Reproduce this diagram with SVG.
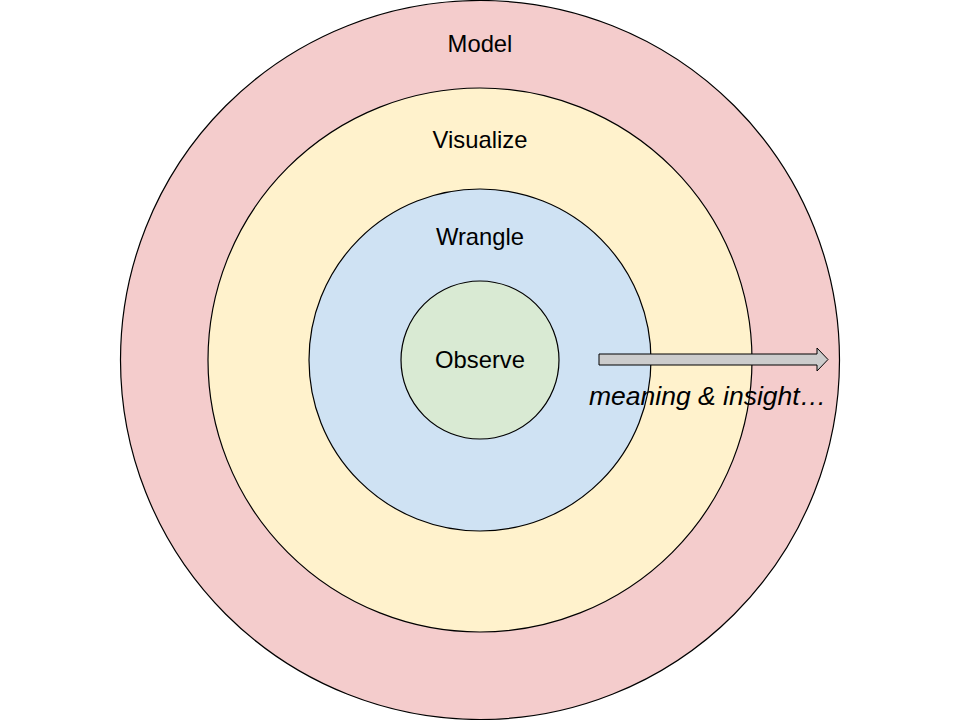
<svg xmlns="http://www.w3.org/2000/svg" width="960" height="720" viewBox="0 0 960 720">
<style>
.ring{stroke:#000;stroke-width:1.2}
.lbl{font-family:"Liberation Sans",Arial,sans-serif;font-size:23.8px;fill:#000;text-anchor:middle}
.it{font-family:"Liberation Sans",Arial,sans-serif;font-size:26.5px;font-style:italic;fill:#000}
</style>
<rect width="960" height="720" fill="#fff"/>
<g id="model"><circle class="ring" cx="480" cy="360" r="359.5" fill="#f4cccc"/><text class="lbl" x="480" y="52">Model</text></g>
<g id="visualize"><circle class="ring" cx="480" cy="360" r="272" fill="#fff2cc"/><text class="lbl" x="480" y="148">Visualize</text></g>
<g id="wrangle"><circle class="ring" cx="480" cy="360" r="171" fill="#cfe2f3"/><text class="lbl" x="480" y="245">Wrangle</text></g>
<g id="observe"><circle class="ring" cx="480" cy="360" r="79" fill="#d9ead3"/><text class="lbl" x="480" y="368">Observe</text></g>
<g id="connectors">
<path d="M599 354 L817 354 L817 348 L828 359.5 L817 371 L817 365 L599 365 Z" fill="#cccccc" stroke="#000" stroke-width="1"/>
</g>
<g id="caption"><text class="it" x="589" y="405">meaning &amp; insight…</text></g>
</svg>
